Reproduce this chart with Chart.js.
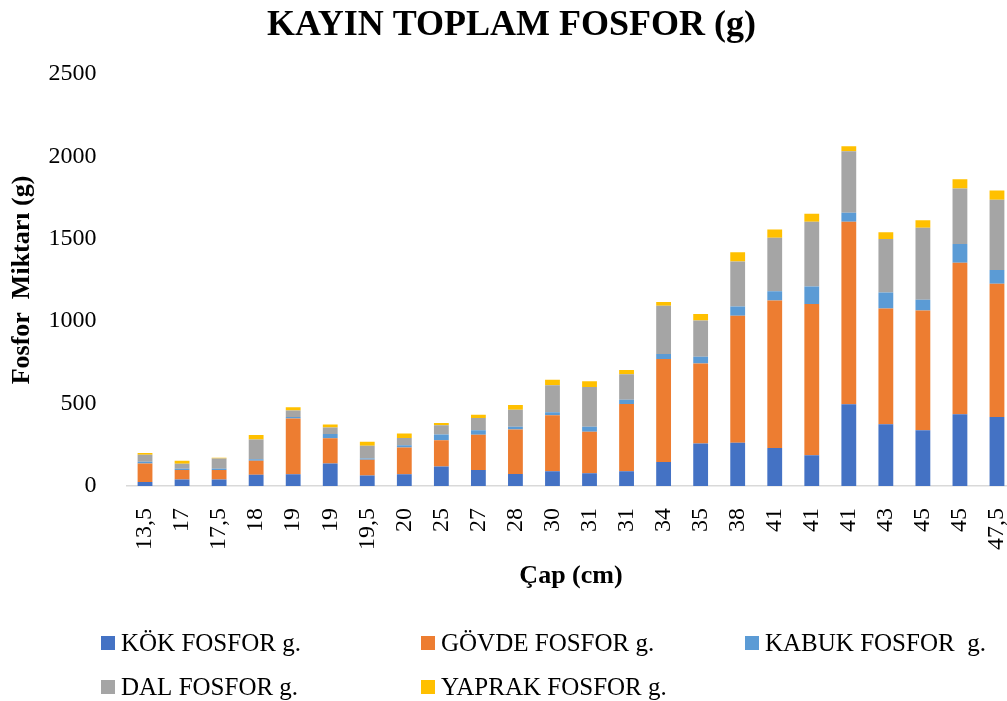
<!DOCTYPE html>
<html>
<head>
<meta charset="utf-8">
<script src="https://cdn.jsdelivr.net/npm/chart.js@4/dist/chart.umd.min.js"></script>
<style>
html,body{margin:0;padding:0;background:#fff;overflow:hidden;width:1007px;height:701px;}
canvas{display:block;}
</style>
</head>
<body>
<canvas id="c" width="1024" height="701"></canvas>
<script>
const categories = ['13,5','17','17,5','18','19','19','19,5','20','25','27','28','30','31','31','34','35','38','41','41','41','43','45','45','47,5'];
const kokValues    = [24,40,40,69,71,137,63,71,119,97,73,89,77,89,145,258,262,230,186,496,375,339,436,418];
const govdeValues  = [113,57,57,84,338,153,96,163,159,214,270,341,252,409,625,486,771,895,919,1108,702,726,919,810];
const kabukValues  = [10,8,8,10,9,25,8,14,35,28,16,18,30,26,31,41,56,57,105,54,97,65,113,83];
const dalValues    = [43,30,62,119,40,40,77,44,56,74,103,163,242,154,292,219,273,325,394,373,325,437,337,426];
const yaprakValues = [10,18,4,27,20,18,24,27,14,19,30,34,34,26,24,39,56,50,48,30,40,45,57,56];
const seriesLabels = ['KÖK FOSFOR g.','GÖVDE FOSFOR g.','KABUK FOSFOR  g.','DAL FOSFOR g.','YAPRAK FOSFOR g.'];
const yTicks = [0,500,1000,1500,2000,2500];

const FONT = "'Liberation Serif','Times New Roman',serif";
const colors = ['#4472C4','#ED7D31','#5B9BD5','#A5A5A5','#FFC000'];
const seriesValues = [kokValues,govdeValues,kabukValues,dalValues,yaprakValues];

const legendPlugin = {
  id: 'gridLegend',
  afterDraw(chart) {
    const ctx = chart.ctx;
    const cols = [101, 421, 745];
    const rows = [643, 687];
    ctx.save();
    ctx.font = '25px ' + FONT;
    ctx.textBaseline = 'middle';
    ctx.textAlign = 'left';
    chart.data.datasets.forEach((ds, i) => {
      const x = cols[i % 3], y = rows[Math.floor(i / 3)];
      ctx.fillStyle = ds.backgroundColor;
      ctx.fillRect(x, y - 7, 14, 14);
      ctx.fillStyle = '#000';
      ctx.fillText(ds.label, x + 20, y + 1);
    });
    ctx.restore();
  }
};

new Chart(document.getElementById('c'), {
  type: 'bar',
  data: {
    labels: categories,
    datasets: seriesLabels.map((l, i) => ({
      label: l,
      data: seriesValues[i],
      backgroundColor: colors[i],
      borderWidth: 0,
      barPercentage: 0.4,
      categoryPercentage: 1.0
    }))
  },
  options: {
    responsive: false,
    animation: false,
    devicePixelRatio: 1,
    layout: { padding: { left: 7.5, right: 8.5, top: 0, bottom: 100 } },
    plugins: {
      legend: { display: false },
      tooltip: { enabled: false },
      title: {
        display: true,
        text: 'KAYIN TOPLAM FOSFOR (g)',
        color: '#000',
        font: { family: FONT, size: 36, weight: 'bold', lineHeight: 1.2 },
        padding: { top: 4.4, bottom: 26.4 }
      }
    },
    scales: {
      x: {
        stacked: true,
        grid: { display: false },
        border: { display: true, color: '#d9d9d9', width: 1.5 },
        ticks: {
          color: '#000',
          font: { family: FONT, size: 24 },
          minRotation: 90, maxRotation: 90,
          autoSkip: false,
          padding: 14
        },
        title: {
          display: true,
          text: 'Çap (cm)',
          color: '#000',
          font: { family: FONT, size: 26, weight: 'bold', lineHeight: 1.2 },
          padding: { top: 4, bottom: 9.4 }
        },
        afterFit(scale) { scale.height = 115; scale.paddingRight = 0; scale.paddingLeft = 0; }
      },
      y: {
        stacked: true,
        min: 0, max: 2500,
        grid: { display: false },
        border: { display: false },
        afterBuildTicks(scale) { scale.ticks = yTicks.map(v => ({ value: v })); },
        ticks: {
          color: '#000',
          font: { family: FONT, size: 24 },
          padding: 22,
          callback: v => String(v)
        },
        title: {
          display: true,
          text: 'Fosfor  Miktarı (g)',
          color: '#000',
          font: { family: FONT, size: 26, weight: 'bold', lineHeight: 1.0 },
          padding: { top: 1.5, bottom: 4 }
        },
        afterFit(scale) { scale.width = 119; }
      }
    }
  },
  plugins: [legendPlugin]
});
</script>
</body>
</html>
